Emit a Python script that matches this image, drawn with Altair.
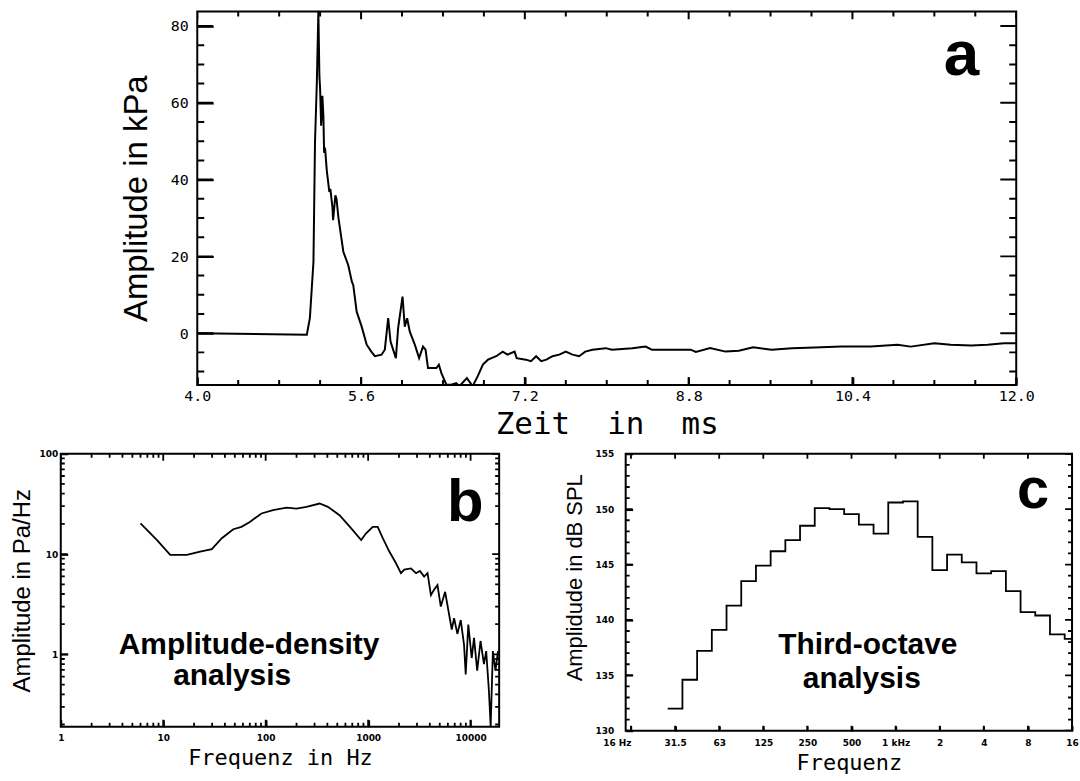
import math
import altair as alt
import pandas as pd

# ---------------- data ----------------
# panel a: pressure time series
time_ms = [4.0, 5.07, 5.10, 5.135, 5.15, 5.168, 5.183, 5.193, 5.20, 5.21,
           5.222, 5.232, 5.239, 5.25, 5.265, 5.29, 5.30, 5.32, 5.327, 5.349,
           5.36, 5.38, 5.427, 5.475, 5.51, 5.524, 5.557, 5.606, 5.655, 5.70,
           5.735, 5.80, 5.832, 5.865, 5.888, 5.94, 5.962, 6.005, 6.027, 6.05,
           6.076, 6.125, 6.167, 6.205, 6.23, 6.254, 6.336, 6.36, 6.385, 6.433,
           6.48, 6.53, 6.56, 6.634, 6.69, 6.74, 6.79, 6.84, 6.92, 6.984,
           7.03, 7.10, 7.12, 7.21, 7.26, 7.31, 7.36, 7.41, 7.47, 7.536,
           7.60, 7.665, 7.73, 7.79, 7.86, 7.99, 8.05, 8.25, 8.38, 8.44,
           8.70, 8.82, 8.87, 9.01, 9.16, 9.29, 9.43, 9.61, 9.81, 10.03,
           10.29, 10.58, 10.84, 10.97, 11.20, 11.36, 11.56, 11.72, 11.88, 12.0]
pressure_kpa = [0, -0.4, 3.9, 18.6, 49.7, 65.3, 83.8, 67, 63.6, 54,
                61.8, 56.6, 47, 47.6, 42.4, 36.8, 37.6, 32.9, 29.4, 35.9,
                35, 29.8, 21.2, 17.7, 13.4, 12.5, 5.6, 1.7, -3, -4.8,
                -6, -5.6, -4.3, 3.9, -2.2, -6.5, 1.3, 9.5, 1.7, 3.9,
                0.4, -3, -6.5, -3.5, -4.3, -9.1, -9.1, -8.2, -10.4, -13.4,
                -13.4, -13, -13.8, -11.7, -13.8, -11.2, -8.2, -6.9, -6, -4.8,
                -5.6, -4.8, -6.5, -6.9, -7.3, -6, -7.3, -6.9, -6, -5.6,
                -4.8, -5.6, -6, -4.8, -4.3, -3.9, -4.3, -3.9, -3.5, -4.3,
                -4.3, -4.3, -4.9, -3.9, -4.8, -4.6, -3.7, -4.3, -3.9, -3.7,
                -3.5, -3.5, -3.0, -3.5, -2.6, -3.0, -3.2, -3.0, -2.6, -2.6]

# panel b: amplitude density spectrum
freq_hz = [6.0, 8.7, 11.7, 17, 22.9, 29.8, 37.3, 48.3, 58, 70,
           91, 118, 160, 200, 250, 336, 405, 526, 684, 855,
           955, 1110, 1240, 1390, 1610, 1870, 2090, 2250, 2620, 2930,
           3200, 3520, 3800, 4100, 4400, 4750, 5120, 5640, 6170, 6550,
           6900, 7430, 8010, 8630, 8960, 9500, 10250, 10800, 11600, 12500,
           13500, 14200, 15100, 15700, 16500, 17500, 18500]
density = [20.2, 13.8, 9.8, 9.8, 10.6, 11.2, 14.4, 17.7, 18.7, 20.9,
           25.4, 27.4, 29.1, 28.4, 29.6, 31.9, 29.6, 24.4, 18, 13.8,
           16.1, 18.7, 18.7, 14.4, 10.6, 8.1, 6.45, 7.0, 7.2, 6.45,
           6.8, 5.96, 6.45, 3.9, 4.4, 4.9, 3.0, 4.2, 2.5, 1.77,
           2.3, 1.6, 2.2, 1.25, 0.63, 1.98, 0.92, 1.46, 0.69, 1.36,
           0.80, 1.08, 0.43, 0.19, 1.08, 0.69, 1.08]

# panel c: third-octave levels (31.5 Hz ... 16 kHz)
band_labels = ["31.5", "40", "50", "63", "80", "100", "125", "160", "200", "250",
               "315", "400", "500", "630", "800", "1k", "1.25k", "1.6k", "2k", "2.5k",
               "3.15k", "4k", "5k", "6.3k", "8k", "10k", "12.5k", "16k"]
band_levels = [132.0, 134.6, 137.2, 139.1, 141.3, 143.5, 144.9, 146.2, 147.2, 148.5,
               150.1, 150.0, 149.55, 148.6, 147.8, 150.6, 150.7, 147.5, 144.5, 145.9,
               145.2, 144.2, 144.4, 142.6, 140.7, 140.4, 138.7, 138.3]
octave_labels = ["16 Hz", "31.5", "63", "125", "250", "500", "1 kHz", "2", "4", "8", "16"]

# tick values (labelled majors + unlabelled minors)
a_x_major = [4.0, 5.6, 7.2, 8.8, 10.4, 12.0]
a_x_minor = [round(4.0 + 0.4 * i, 1) for i in range(21) if i % 4 != 0]
a_y_major = [0, 20, 40, 60, 80]
a_y_minor = [v for v in range(-10, 81, 5) if v % 20 != 0]
b_x_major = [1, 10, 100, 1000, 10000]
b_x_minor = [d * m for d in b_x_major for m in range(2, 10) if d * m <= 19000]
b_y_major = [1, 10, 100]
b_y_minor = [round(d * m, 3) for d in [0.1, 1, 10] for m in range(2, 10) if d * m >= 0.19]
c_y_major = [130, 135, 140, 145, 150, 155]
c_y_minor = [v for v in range(130, 156) if v % 5 != 0]
c_x_major = list(range(0, 11))


# ---------------- helpers ----------------
def frac_value(dom, frac, log):
    if log:
        a, b = math.log10(dom[0]), math.log10(dom[1])
        return 10 ** (a + frac * (b - a))
    return dom[0] + frac * (dom[1] - dom[0])


def edge_tick_rows(xdom, ydom, W, H, xlog, ylog, xticks, yticks):
    """Inward tick segments on all four edges, built from the tick value lists."""
    rows = []
    n = 0
    for vals, L in yticks:
        for v in vals:
            for edge, end in ((0.0, L / W), (1.0, 1 - L / W)):
                n += 1
                rows.append({"x": frac_value(xdom, edge, xlog), "y": v, "seg": "t%d" % n})
                rows.append({"x": frac_value(xdom, end, xlog), "y": v, "seg": "t%d" % n})
    for vals, L in xticks:
        for v in vals:
            for edge, end in ((0.0, L / H), (1.0, 1 - L / H)):
                n += 1
                rows.append({"x": v, "y": frac_value(ydom, edge, ylog), "seg": "t%d" % n})
                rows.append({"x": v, "y": frac_value(ydom, end, ylog), "seg": "t%d" % n})
    return rows


def inward(px):
    # axis ticks drawn into the plot area
    return {"expr": "-%d" % px}


def text_mark(txt, x, y, size, font="Liberation Sans", weight="bold"):
    return alt.Chart(pd.DataFrame({"t": [txt]})).mark_text(
        font=font, fontSize=size, fontWeight=weight, align="center",
        baseline="alphabetic", color="black"
    ).encode(x=alt.value(x), y=alt.value(y), text="t:N")


BOX = alt.ViewBackground(stroke="black", strokeWidth=2)
TK = dict(ticks=True, tickColor="black", tickWidth=2, domain=False, grid=False,
          labelFlush=False, labelOverlap=False, labelColor="black", titleColor="black",
          titleFontWeight="normal")

# ---------------- panel a ----------------
Wa, Ha = 822, 375
xdom_a, ydom_a = [4.0, 12.0], [-13.5, 83.8]
rows_a = [{"x": t, "y": p, "seg": "curve"} for t, p in zip(time_ms, pressure_kpa)]
rows_a += edge_tick_rows(xdom_a, ydom_a, Wa, Ha, False, False,
                         [(a_x_major, 8), (a_x_minor, 5)],
                         [(a_y_major, 16), (a_y_minor, 7)])
df_a = pd.DataFrame(rows_a)
line_a = alt.Chart(df_a).mark_line(color="black", strokeWidth=2, clip=True).encode(
    x=alt.X("x:Q", scale=alt.Scale(domain=xdom_a, nice=False, zero=False), axis=alt.Axis(
        values=a_x_major, format=".1f", tickSize=inward(8),
        labelFont="DejaVu Sans Mono", labelFontSize=15, labelPadding=12,
        title="Zeit\u00a0\u00a0in\u00a0\u00a0ms", titleFont="DejaVu Sans Mono",
        titleFontSize=31, titlePadding=6, **TK)),
    y=alt.Y("y:Q", scale=alt.Scale(domain=ydom_a, nice=False, zero=False), axis=alt.Axis(
        values=a_y_major, tickSize=inward(16),
        labelFont="DejaVu Sans Mono", labelFontSize=15, labelPadding=25,
        title="Amplitude in kPa", titleFont="Liberation Sans", titleFontSize=33,
        titlePadding=17, **TK)),
    detail="seg:N",
)
panel_a = alt.layer(
    line_a,
    text_mark("a", 767, 64, 64),
).properties(width=Wa, height=Ha, view=BOX)

# ---------------- panel b ----------------
Wb, Hb = 440, 274
xdom_b, ydom_b = [1, 19000], [0.19, 100]
rows_b = [{"x": f, "y": a, "seg": "curve"} for f, a in zip(freq_hz, density)]
rows_b += edge_tick_rows(xdom_b, ydom_b, Wb, Hb, True, True,
                         [(b_x_major, 7), (b_x_minor, 4)],
                         [(b_y_major, 7), (b_y_minor, 4)])
df_b = pd.DataFrame(rows_b)
line_b = alt.Chart(df_b).mark_line(color="black", strokeWidth=1.8, clip=True).encode(
    x=alt.X("x:Q", scale=alt.Scale(type="log", domain=xdom_b, nice=False), axis=alt.Axis(
        values=b_x_major, format="d", tickSize=inward(7),
        labelFont="DejaVu Sans", labelFontSize=9, labelFontWeight="bold", labelPadding=14,
        title="Frequenz in Hz", titleFont="DejaVu Sans Mono", titleFontSize=22,
        titlePadding=5, **TK)),
    y=alt.Y("y:Q", scale=alt.Scale(type="log", domain=ydom_b, nice=False), axis=alt.Axis(
        values=b_y_major, format="d", tickSize=inward(7),
        labelFont="DejaVu Sans", labelFontSize=9, labelFontWeight="bold", labelPadding=10,
        title="Amplitude in Pa/Hz", titleFont="Liberation Sans", titleFontSize=24,
        titlePadding=5, **TK)),
    detail="seg:N",
)
panel_b = alt.layer(
    line_b,
    text_mark("b", 406, 67, 60),
    text_mark("Amplitude-density", 189, 201, 30),
    text_mark("analysis", 172, 232, 30),
).properties(width=Wb, height=Hb, view=BOX)

# ---------------- panel c ----------------
Wc, Hc = 448, 278
xdom_c, ydom_c = [-0.12, 10.0], [130, 155]
k_left = [1 + i / 3 - 1 / 6 for i in range(len(band_levels))]
rows_c = [{"x": k, "y": lv, "seg": "curve"} for k, lv in zip(k_left, band_levels)]
rows_c.append({"x": k_left[-1] + 1 / 3, "y": band_levels[-1], "seg": "curve"})
rows_c += edge_tick_rows(xdom_c, ydom_c, Wc, Hc, False, False,
                         [(c_x_major, 5)],
                         [(c_y_major, 7), (c_y_minor, 4)])
df_c = pd.DataFrame(rows_c)
label_js = "[" + ",".join("'" + s + "'" for s in octave_labels) + "][datum.value]"
line_c = alt.Chart(df_c).mark_line(color="black", strokeWidth=1.8, clip=True,
                                   interpolate="step-after").encode(
    x=alt.X("x:Q", scale=alt.Scale(domain=xdom_c, nice=False, zero=False), axis=alt.Axis(
        values=c_x_major, labelExpr=label_js, tickSize=inward(5),
        labelFont="DejaVu Sans", labelFontSize=9, labelFontWeight="bold", labelPadding=13,
        labelAlign={"condition": {"test": "datum.value === 0", "value": "right"}, "value": "center"},
        title="Frequenz", titleFont="DejaVu Sans Mono", titleFontSize=22,
        titlePadding=5, **TK)),
    y=alt.Y("y:Q", scale=alt.Scale(domain=ydom_c, nice=False, zero=False), axis=alt.Axis(
        values=c_y_major, tickSize=inward(7),
        labelFont="DejaVu Sans", labelFontSize=9, labelFontWeight="bold", labelPadding=19,
        title="Amplidude in dB SPL", titleFont="Liberation Sans", titleFontSize=22,
        titlePadding=9, titleY=124, **TK)),
    detail="seg:N",
)
panel_c = alt.layer(
    line_c,
    text_mark("c", 409, 54, 58),
    text_mark("Third-octave", 243, 201, 30),
    text_mark("analysis", 237, 235, 30),
).properties(width=Wc, height=Hc, view=BOX)

# ---------------- layout ----------------
spacer = alt.Chart(pd.DataFrame({"z": [0]})).mark_point(opacity=0).properties(width=137, height=Ha)
row1 = alt.hconcat(spacer, panel_a, spacing=0, bounds="flush")
row2 = alt.hconcat(panel_b, panel_c, spacing=127, bounds="flush")

chart = alt.vconcat(row1, row2, spacing=Ha + 69, bounds="flush").properties(
    padding={"left": 9, "top": 9, "right": 0, "bottom": 0},
    background="white",
).configure_view(stroke="transparent").configure(font="Liberation Sans")

chart.save("out.html", embed_options={"renderer": "svg", "actions": False})
